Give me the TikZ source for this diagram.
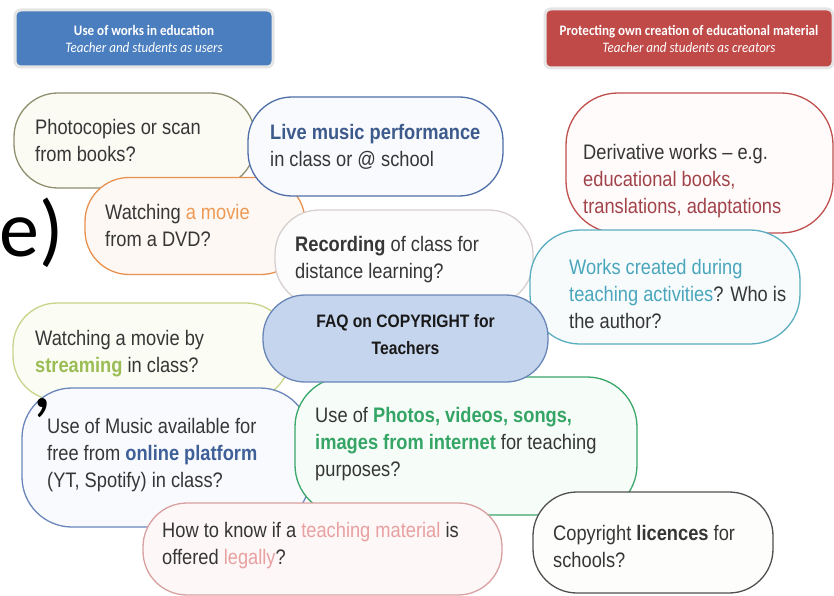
\documentclass[tikz,border=0pt]{standalone}
\usepackage{fontspec}
\setmainfont{Liberation Sans}[FakeStretch=0.87]
\newfontfamily\hdrfont{Carlito}[FakeStretch=0.9]
\newfontfamily\bgfont{Carlito}
\definecolor{txtgray}{HTML}{363636}
\definecolor{hdrblue}{HTML}{4A7EBF}
\definecolor{hdrred}{HTML}{C04A48}
\definecolor{photoC}{HTML}{8F8F70}\definecolor{photoF}{HTML}{FBFBF4}
\definecolor{dvdC}{HTML}{E8914F}\definecolor{dvdF}{HTML}{FDF8F3}\definecolor{dvdT}{HTML}{EE9A55}
\definecolor{liveC}{HTML}{4F6FA8}\definecolor{liveF}{HTML}{F8FAFD}\definecolor{liveT}{HTML}{3D5A8C}
\definecolor{recC}{HTML}{D8CFCF}\definecolor{recF}{HTML}{FCFCFC}
\definecolor{faqC}{HTML}{6A86B8}\definecolor{faqF}{HTML}{C6D5EE}
\definecolor{derC}{HTML}{C0504D}\definecolor{derF}{HTML}{FFFBFB}\definecolor{derT}{HTML}{A2434A}
\definecolor{worC}{HTML}{5AAEC0}\definecolor{worF}{HTML}{F7FBFC}\definecolor{worT}{HTML}{4AA6BC}
\definecolor{strC}{HTML}{C9D48A}\definecolor{strF}{HTML}{FBFCF3}\definecolor{strT}{HTML}{9BBD55}
\definecolor{onlC}{HTML}{6A86BB}\definecolor{onlF}{HTML}{F8FAFD}\definecolor{onlT}{HTML}{3E5F98}
\definecolor{phoC}{HTML}{3AA76A}\definecolor{phoF}{HTML}{F6FCF8}\definecolor{phoT}{HTML}{35A565}
\definecolor{legC}{HTML}{D8A0A0}\definecolor{legF}{HTML}{FDF7F7}\definecolor{legT}{HTML}{E8A0A0}
\definecolor{licC}{HTML}{505050}\definecolor{licF}{HTML}{FDFDFB}
\tikzset{
  bubble/.style={draw, line width=1.3pt, rounded corners=44pt, inner sep=0pt},
  txt/.style={inner sep=0pt, align=left, anchor=west, text=txtgray, font=\fontsize{21}{27}\selectfont},
  hdr/.style={rounded corners=6pt, inner sep=0pt, draw=black!10, line width=3pt, align=center,
    text=white, font=\hdrfont\fontsize{14.5}{17}\selectfont},
  bgtxt/.style={inner sep=0pt, anchor=base west, font=\bgfont\fontsize{80}{80}\selectfont},
}
\begin{document}
\begin{tikzpicture}[x=1pt,y=-1pt]
\useasboundingbox (0,0) rectangle (834,596);
\fill[white] (0,0) rectangle (834,596);
% headers
\node[hdr, fill=hdrblue, minimum width=258pt, minimum height=57pt] (h1) at (144,38.5)
  {{\bfseries Use of works in education}\\{\itshape Teacher and students as users}};
\node[hdr, fill=hdrred, minimum width=288pt, minimum height=59pt] (h2) at (689,38.5)
  {{\bfseries Protecting own creation of educational material}\\{\itshape Teacher and students as creators}};
% bubbles
\node[bubble, draw=photoC, fill=photoF, minimum width=241pt, minimum height=95pt] (photo) at (134.5,140.5) {};
\node[txt] (tphoto) at (35,140.5) {Photocopies or scan\\from books?};
\node[bubble, draw=dvdC, fill=dvdF, minimum width=220pt, minimum height=97pt] (dvd) at (195,226) {};
\node[txt] (tdvd) at (105,225) {Watching {\color{dvdT}a movie}\\from a DVD?};
\node[bubble, draw=liveC, fill=liveF, minimum width=255pt, minimum height=99pt] (live) at (375.5,146.5) {};
\node[txt] (tlive) at (270,146.5) {{\color{liveT}\bfseries Live music performance}\\in class or @ school};
\node[bubble, draw=recC, fill=recF, minimum width=258pt, minimum height=95pt] (rec) at (404,257.5) {};
\node[txt] (trec) at (295,259.5) {{\bfseries Recording} of class for\\distance learning?};
\node[bubble, draw=derC, fill=derF, minimum width=267pt, minimum height=140pt, rounded corners=52pt] (der) at (699.5,163) {};
\node[txt] (tder) at (583,181) {Derivative works -- e.g.\\{\color{derT}educational books,}\\{\color{derT}translations, adaptations}};
\node[bubble, draw=worC, fill=worF, minimum width=270pt, minimum height=114pt, rounded corners=50pt] (wor) at (665,287) {};
\node[txt] (twor) at (569,294) {{\color{worT}Works created during}\\{\color{worT}teaching activities}? Who is\\the author?};
\node[bubble, draw=strC, fill=strF, minimum width=277pt, minimum height=97pt] (str) at (151.5,351.5) {};
\node[txt] (tstr) at (35,353.5) {Watching a movie by\\{\color{strT}\bfseries streaming} in class?};
\node[bubble, draw=onlC, fill=onlF, minimum width=288pt, minimum height=139pt, rounded corners=50pt] (onl) at (166,457.5) {};
\node[txt] (tonl) at (47,455) {Use of Music available for\\free from {\color{onlT}\bfseries online platform}\\(YT, Spotify) in class?};
\node[bubble, draw=phoC, fill=phoF, minimum width=342pt, minimum height=138pt, rounded corners=50pt] (pho) at (466,446) {};
\node[txt] (tpho) at (315,444) {Use of {\color{phoT}\bfseries Photos, videos, songs,}\\{\color{phoT}\bfseries images from internet} for teaching\\purposes?};
\node[bubble, draw=faqC, fill=faqF, minimum width=285pt, minimum height=87pt, rounded corners=42pt] (faq) at (405.5,338.5) {};
\node[txt, anchor=center, align=center, font=\bfseries\fontsize{18}{27}\selectfont, text=black!90] (tfaq) at (405.5,334.5) {FAQ on COPYRIGHT for\\Teachers};
\node[bubble, draw=legC, fill=legF, minimum width=359pt, minimum height=92pt] (leg) at (322.5,549) {};
\node[txt] (tleg) at (162,546) {How to know if a {\color{legT}teaching material} is\\offered {\color{legT}legally}?};
\node[bubble, draw=licC, fill=licF, minimum width=240pt, minimum height=101pt] (lic) at (653,542.5) {};
\node[txt] (tlic) at (553,546) {Copyright {\bfseries licences} for\\schools?};
% background fragments (text of the slide behind the figure)
\node[bgtxt] (bge) at (-1,256) {e)};
\node[bgtxt] (bgc) at (32,407) {,};
\end{tikzpicture}
\end{document}
